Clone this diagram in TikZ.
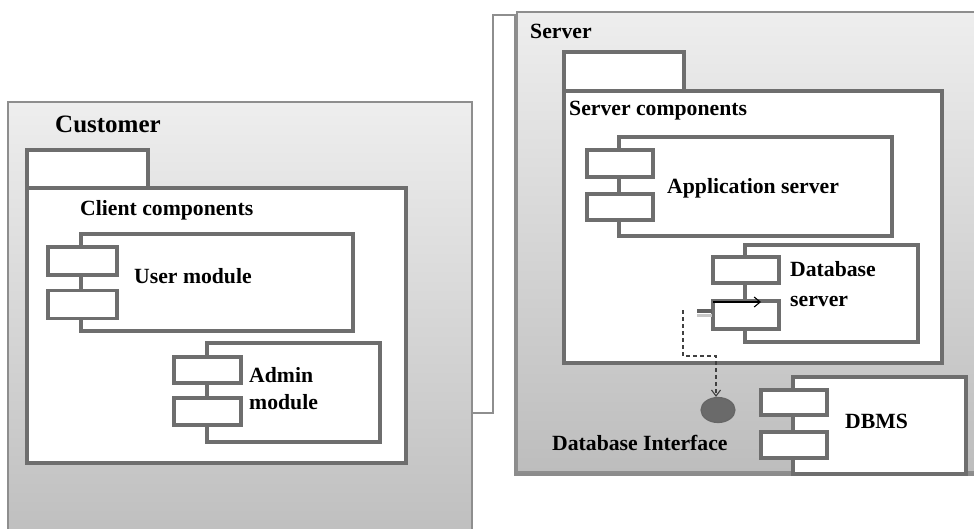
\documentclass[tikz,border=0pt]{standalone}
\usepackage{fontspec}
\setmainfont{Liberation Serif}
\usetikzlibrary{arrows.meta,shadows,shapes.geometric,calc}
\definecolor{inkgray}{HTML}{6E6E6E}
\definecolor{rimgray}{HTML}{8E8E8E}
\definecolor{topgray}{HTML}{EEEEEE}
\definecolor{botgray}{HTML}{BDBDBD}
\definecolor{dotgray}{HTML}{6A6A6A}
\begin{document}
\begin{tikzpicture}[x=1pt,y=-1pt,
  outerbox/.style={draw=rimgray, line width=1.3pt, rectangle, inner sep=0pt,
    top color=topgray, bottom color=botgray},
  pkgbox/.style={draw=inkgray, line width=3.5pt, fill=white, rectangle, inner sep=0pt},
  compbox/.style={draw=inkgray, line width=3.5pt, fill=white, rectangle, inner sep=0pt},
  portbox/.style={draw=inkgray, line width=3.5pt, fill=white, rectangle, inner sep=0pt},
  lbl/.style={font=\bfseries\fontsize{21.7}{24}\selectfont, anchor=base west, inner sep=0pt},
  biglbl/.style={font=\bfseries\fontsize{25}{28}\selectfont, anchor=base west, inner sep=0pt},
  link/.style={draw=rimgray, line width=1.1pt},
  depline/.style={draw=black!75, line width=1.1pt, dashed, dash pattern=on 4pt off 3pt, -{Straight Barb[length=6pt,width=9pt]}},
  useline/.style={draw=black, line width=1.1pt, -{Straight Barb[length=6pt,width=10pt]}},
  stub/.style={draw=black!62, line width=4pt}
]
\useasboundingbox (0,0) rectangle (974,528);

% ---------- Customer ----------
\node[outerbox, minimum width=464pt, minimum height=450pt] (customer) at (240,327) {};
\node[biglbl] (customerlbl) at (55,132) {Customer};
\node[pkgbox, minimum width=121pt, minimum height=38pt] (clienttab) at (87.5,169) {};
\node[pkgbox, minimum width=379pt, minimum height=275pt] (clientpkg) at (216.5,325.5) {};
\node[lbl] (clientlbl) at (80,215) {Client components};

\node[compbox, minimum width=272pt, minimum height=97pt] (user) at (217,282.5) {};
\node[portbox, minimum width=69pt, minimum height=28pt] (userpa) at (82.5,261) {};
\node[portbox, minimum width=69pt, minimum height=28pt] (userpb) at (82.5,304.5) {};
\node[lbl] (userlbl) at (134,283) {User module};

\node[compbox, minimum width=173pt, minimum height=99pt] (admin) at (293.5,392.5) {};
\node[portbox, minimum width=67pt, minimum height=26pt] (adminpa) at (207.5,370) {};
\node[portbox, minimum width=67pt, minimum height=27pt] (adminpb) at (207.5,411.5) {};
\node[lbl] (adminlbl) at (249,382) {Admin};
\node[lbl] (adminlbl2) at (249,409) {module};

% ---------- Server ----------
\node[outerbox, minimum width=470pt, minimum height=460pt,
      drop shadow={shadow xshift=-3pt, shadow yshift=-4pt, opacity=0.45, fill=black}] (server) at (752,242) {};
\node[lbl] (serverlbl) at (530,38) {Server};
\node[pkgbox, minimum width=120pt, minimum height=39pt] (srvtab) at (624,71.5) {};
\node[pkgbox, minimum width=378pt, minimum height=272pt] (srvpkg) at (753,227) {};
\node[lbl] (srvlbl) at (569,115) {Server components};

\node[compbox, minimum width=273pt, minimum height=99pt] (app) at (755.5,186.5) {};
\node[portbox, minimum width=66pt, minimum height=27pt] (apppa) at (620,163.5) {};
\node[portbox, minimum width=66pt, minimum height=26pt] (apppb) at (620,207) {};
\node[lbl] (applbl) at (667,193) {Application server};

\node[compbox, minimum width=173pt, minimum height=97pt] (dbs) at (831.5,293.5) {};
\node[portbox, minimum width=66pt, minimum height=26pt] (dbspa) at (746,270) {};
\node[portbox, minimum width=66pt, minimum height=28pt] (dbspb) at (746,315) {};
\node[lbl] (dbslbl) at (790,276) {Database};
\node[lbl] (dbslbl2) at (790,306) {server};

\node[compbox, minimum width=173pt, minimum height=97pt] (dbms) at (879.5,425.5) {};
\node[portbox, minimum width=66pt, minimum height=25pt] (dbmspa) at (794,402.5) {};
\node[portbox, minimum width=66pt, minimum height=26pt] (dbmspb) at (794,445) {};
\node[lbl] (dbmslbl) at (845,428) {DBMS};

\node[ellipse, draw=black!60, line width=1.2pt, fill=dotgray, minimum width=34pt, minimum height=25pt, inner sep=0pt] (iface) at (718,410) {};
\node[lbl] (ifacelbl) at (552,450) {Database Interface};

% ---------- connectors ----------
\coordinate (j1) at (493,413);
\coordinate (j2) at (493,15);
\draw[link] (j1 -| customer.east) -- (j1) -- (j2) -- (j2 -| server.west);

\coordinate (s1) at (697,311);
\coordinate (s2) at (712,311);
\draw[draw=black!22, line width=3pt] ($(s1)+(0,4)$) -- ($(s2)+(0,4)$);
\draw[stub] (s1) -- (s2);

\coordinate (a1) at (713,302);
\coordinate (a2) at (761,302);
\draw[useline] (a1) -- (a2);

\coordinate (d1) at (683,310);
\coordinate (d3) at (716,356);
\draw[depline] (d1) |- (d3) -- (d3 |- iface.north);
\end{tikzpicture}
\end{document}
